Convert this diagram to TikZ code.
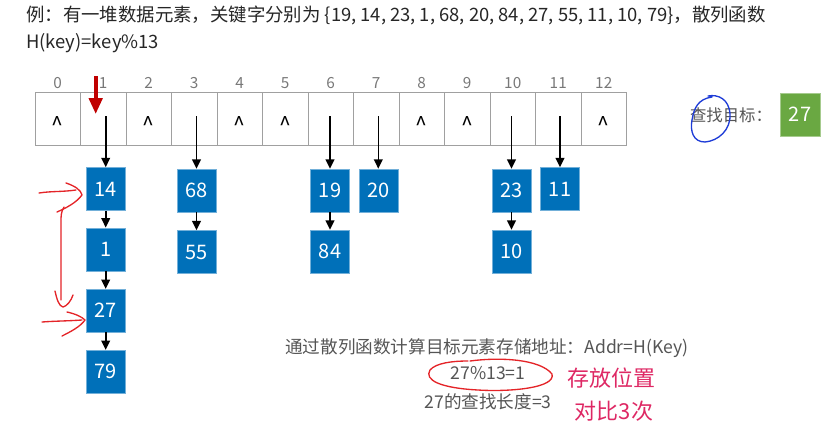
\documentclass[tikz,border=0pt]{standalone}
\usepackage{fontspec}
\setmainfont{Noto Sans CJK SC}
\usetikzlibrary{arrows.meta}
\definecolor{nodeblue}{RGB}{0,112,185}
\definecolor{cellgray}{RGB}{160,160,160}
\definecolor{idxgray}{RGB}{120,120,120}
\definecolor{txtgray}{RGB}{85,85,85}
\definecolor{darkred}{RGB}{192,0,0}
\definecolor{handred}{RGB}{228,36,40}
\definecolor{handpink}{RGB}{222,40,100}
\definecolor{handblue}{RGB}{30,60,215}
\definecolor{targetgreen}{RGB}{106,168,66}
\begin{document}
\begin{tikzpicture}[x=0.75pt,y=-0.75pt,
  cell/.style={draw=cellgray, line width=0.6pt, minimum width=34.125pt, minimum height=39.45pt, inner sep=0pt},
  idx/.style={text=idxgray, font=\fontsize{11.5}{13}\selectfont, inner sep=0pt},
  caret/.style={font=\fontsize{16}{17}\selectfont, inner sep=0pt},
  elem/.style={fill=nodeblue, draw=nodeblue!55!white, line width=0.4pt, text=white, minimum width=29.25pt, minimum height=32.25pt, inner sep=0pt, font=\fontsize{15}{17}\selectfont},
  ptr/.style={-{Triangle[length=7pt,width=6.5pt]}, line width=1.2pt},
  redptr/.style={-{Triangle[length=12pt,width=10pt]}, line width=2.8pt, draw=darkred},
  hand/.style={draw=handred, line width=1pt, line cap=round, line join=round},
  gtext/.style={text=txtgray, font=\fontsize{13.2}{15}\selectfont, inner sep=0pt},
  note/.style={text=handpink, font=\fontsize{16.5}{18}\selectfont, inner sep=0pt}]
\useasboundingbox (0,0) rectangle (839,436);

% title
\node[anchor=west, inner sep=0pt, text=black!85, font=\fontsize{13.8}{16}\selectfont] (title1) at (26,15) {例：有一堆数据元素，关键字分别为 \{19, 14, 23, 1, 68, 20, 84, 27, 55, 11, 10, 79\}，散列函数};
\node[anchor=west, inner sep=0pt, text=black!85, font=\fontsize{13.8}{16}\selectfont] (title2) at (26,43) {H(key)=key\%13};

% table
\foreach \i in {0,...,12} {
  \node[cell] (c\i) at ({57.75+45.5*\i},119) {};
  \node[idx] (i\i) at ({57.75+45.5*\i},83) {\i};
}
\foreach \i in {0,2,4,5,8,9,12} {
  \node[caret] (k\i) at ([yshift=-4pt]c\i.center) {\textasciicircum};
}

% elements
\node[elem] (n14) at (105.7,189) {14};
\node[elem] (n1)  at (105.7,249.3) {1};
\node[elem] (n27) at (105.7,310.7) {27};
\node[elem] (n79) at (105.7,371.7) {79};
\node[elem] (n68) at (196.5,190.5) {68};
\node[elem] (n55) at (196.5,252) {55};
\node[elem] (n19) at (330,190.5) {19};
\node[elem] (n84) at (330,251.5) {84};
\node[elem] (n20) at (378.3,190.5) {20};
\node[elem] (n23) at (511.5,190.5) {23};
\node[elem] (n10) at (511.5,251.5) {10};
\node[elem] (n11) at (560,189) {11};

% pointers from the table
\foreach \n/\c in {n14/c1, n68/c3, n19/c6, n20/c7, n23/c10, n11/c11} {
  \draw[ptr] ([yshift=2pt]\n.north |- \c.center) -- (\n.north);
}
% chains
\draw[ptr] (n14.south) -- (n1.north);
\draw[ptr] (n1.south) -- (n27.north);
\draw[ptr] (n27.south) -- (n79.north);
\draw[ptr] (n68.south) -- (n55.north);
\draw[ptr] (n19.south) -- (n84.north);
\draw[ptr] (n23.south) -- (n10.north);

% red pointer at index 1
\coordinate (r1) at (95.7,76);
\coordinate (r2) at (95.7,114);
\draw[redptr] (r1) -- (r2);

% handwritten red arrows
\draw[hand] (39,193) .. controls (52,191) and (62,192) .. (76,190);
\draw[hand] (66,183) .. controls (75,186) and (81,190) .. (82,195) .. controls (76,203) and (66,208) .. (57,212);
\draw[hand] (64,207) .. controls (61,212) and (61,216) .. (61,222) -- (61,300);
\draw[hand] (55,291) .. controls (57,300) and (59,306) .. (63,307) .. controls (67,306) and (71,301) .. (73,295);
\draw[hand] (42,322) .. controls (55,321) and (68,321) .. (82,320);
\draw[hand] (67,312) .. controls (76,314) and (82,317) .. (85,320) .. controls (80,327) and (70,332) .. (62,336);

% target
\node[inner sep=0pt, text=txtgray, font=\fontsize{12.3}{14}\selectfont] (tgtlabel) at (731,115) {查找目标：};
\node[fill=targetgreen, draw=targetgreen!60!white, line width=0.4pt, text=white, minimum width=30pt, minimum height=32pt, inner sep=0pt, font=\fontsize{15}{17}\selectfont] (tgt) at (800,114.7) {27};
\draw[draw=handblue, line width=1pt, line cap=round] (708,96) .. controls (718,94) and (729,99) .. (730,114) .. controls (731,130) and (718,141) .. (705,142) .. controls (693,142) and (690,131) .. (692,120) .. controls (694,108) and (698,99) .. (712,97);

% bottom texts
\node[gtext, anchor=west] (addr) at (285,348.3) {通过散列函数计算目标元素存储地址：Addr=H(Key)};
\node[gtext] (calc) at (488,373.3) {27\%13=1};
\node[gtext] (len) at (488,401.7) {27的查找长度=3};
\draw[hand] (470,361) .. controls (500,357) and (540,359) .. (552,374) .. controls (556,388) and (510,392) .. (478,390) .. controls (440,388) and (424,380) .. (430,370) .. controls (436,363) and (452,361) .. (468,361);
\node[note] (note1) at (611,378) {存放位置};
\node[note] (note2) at (614,411) {对比3次};
\end{tikzpicture}
\end{document}
